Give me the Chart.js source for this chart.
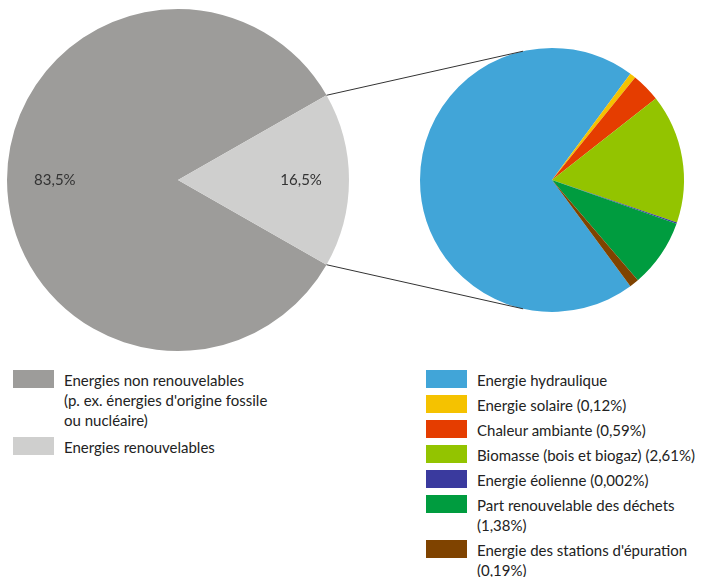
<!DOCTYPE html>
<html>
<head>
<meta charset="utf-8">
<script src="https://cdn.jsdelivr.net/npm/chart.js@4.4.0/dist/chart.umd.min.js"></script>
<style>
    body { margin: 0; background: #fff; font-family: Lato, "Liberation Sans", Arial, sans-serif; }
    #wrap { position: relative; width: 710px; height: 577px; }
    canvas { position: absolute; left: 0; top: 0; }
    .legend { position: absolute; top: 370px; color: #222; font-size: 15px; line-height: 20px; }
    .item { position: relative; padding-left: 51px; }
    .swatch { position: absolute; left: 0; top: 0; width: 41px; height: 18px; }
</style>
</head>
<body>
<div id="wrap">
    <canvas id="mainChart" width="710" height="360"></canvas>
    <canvas id="detailChart" width="710" height="360"></canvas>
    <div class="legend" id="mainLegend" style="left:13px"></div>
    <div class="legend" id="detailLegend" style="left:426px"></div>
</div>
<script>
// left pie: total energy
const mainLabels = [
    "Energies non renouvelables<br>(p. ex. énergies d'origine fossile<br>ou nucléaire)",
    "Energies renouvelables"
];
const mainValues = [83.5, 16.5];
const mainTexts = ["83,5%", "16,5%"];
const mainColors = ["#9d9c9a", "#cfcfce"];

// right pie: breakdown of the renewable part
const detailLabels = [
    "Energie hydraulique",
    "Energie solaire (0,12%)",
    "Chaleur ambiante (0,59%)",
    "Biomasse (bois et biogaz) (2,61%)",
    "Energie éolienne (0,002%)",
    "Part renouvelable des déchets<br>(1,38%)",
    "Energie des stations d'épuration<br>(0,19%)"
];
const detailValues = [11.61, 0.12, 0.59, 2.61, 0.03, 1.38, 0.19];
const detailColors = ["#41a5d8", "#f5c200", "#e53d00", "#93c400", "#3a3a9e", "#009c3f", "#7f4300"];

function buildLegend(id, labels, colors, gaps) {
    const box = document.getElementById(id);
    labels.forEach((l, i) => {
        box.innerHTML += `<div class="item" style="margin-bottom:${gaps}px"><span class="swatch" style="background:${colors[i]}"></span>${l}</div>`;
    });
}
buildLegend("mainLegend", mainLabels, mainColors, 7);
buildLegend("detailLegend", detailLabels, detailColors, 5);

const total = mainValues.reduce((a, b) => a + b, 0);
const renewShare = mainValues[1] / total;
const detailTotal = detailValues.reduce((a, b) => a + b, 0);
const hydroShare = detailValues[0] / detailTotal;

const pieLabels = {
    id: "pieLabels",
    afterDatasetsDraw(chart) {
        const ctx = chart.ctx;
        const arcs = chart.getDatasetMeta(0).data;
        ctx.save();
        ctx.font = "15px Lato, 'Liberation Sans', Arial, sans-serif";
        ctx.fillStyle = "#333";
        ctx.textAlign = "center";
        ctx.textBaseline = "middle";
        arcs.forEach((arc, i) => {
            const mid = (arc.startAngle + arc.endAngle) / 2;
            const d = arc.outerRadius * 0.72;
            ctx.fillText(mainTexts[i], arc.x + Math.cos(mid) * d, arc.y + Math.sin(mid) * d);
        });
        ctx.restore();
    }
};

const mainChart = new Chart(document.getElementById("mainChart"), {
    type: "pie",
    data: {
        labels: mainTexts,
        datasets: [{ data: mainValues, backgroundColor: mainColors, borderWidth: 0 }]
    },
    options: {
        responsive: false,
        animation: false,
        rotation: 90 + renewShare * 180,
        layout: { padding: { left: 7, right: 361, top: 9, bottom: 9 } },
        plugins: { legend: { display: false }, tooltip: { enabled: false } }
    },
    plugins: [pieLabels]
});

// connector lines: from the renewable slice edges to tangents of the right pie
const connectors = {
    id: "connectors",
    afterDraw(chart) {
        const src = mainChart.getDatasetMeta(0).data[1];
        const dst = chart.getDatasetMeta(0).data[0];
        const r = dst.outerRadius;
        const ctx = chart.ctx;
        ctx.save();
        ctx.strokeStyle = "#333";
        ctx.lineWidth = 1;
        [[src.startAngle, -1], [src.endAngle, 1]].forEach(([a, side]) => {
            const px = src.x + Math.cos(a) * src.outerRadius;
            const py = src.y + Math.sin(a) * src.outerRadius;
            const dx = px - dst.x, dy = py - dst.y;
            const d = Math.sqrt(dx * dx + dy * dy);
            const t = Math.atan2(dy, dx) - side * Math.acos(r / d);
            ctx.beginPath();
            ctx.moveTo(px, py);
            ctx.lineTo(dst.x + Math.cos(t) * r, dst.y + Math.sin(t) * r);
            ctx.stroke();
        });
        ctx.restore();
    }
};

new Chart(document.getElementById("detailChart"), {
    type: "pie",
    data: {
        labels: detailLabels,
        datasets: [{ data: detailValues, backgroundColor: detailColors, borderWidth: 0 }]
    },
    options: {
        responsive: false,
        animation: false,
        rotation: 90 + (1 - hydroShare) * 180,
        layout: { padding: { left: 420, right: 26, top: 48, bottom: 48 } },
        plugins: { legend: { display: false }, tooltip: { enabled: false } }
    },
    plugins: [connectors]
});
</script>
</body>
</html>
